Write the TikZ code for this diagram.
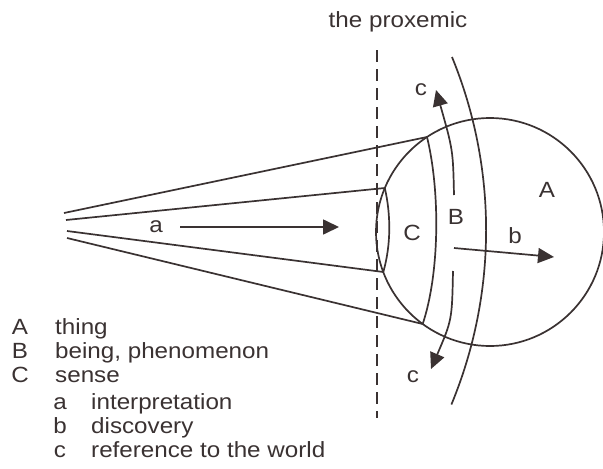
\documentclass[tikz,border=0pt]{standalone}
\usepackage{fontspec}
\setmainfont{Liberation Sans}
\usetikzlibrary{arrows.meta}
\definecolor{ink}{RGB}{58,50,50}
\newcommand{\sx}[1]{\scalebox{1.1}[1]{#1}}
\begin{document}
\begin{tikzpicture}[x=1pt,y=-1pt,
  line/.style={draw=ink, line width=1.7pt},
  arr/.style={line, -{Triangle[length=16pt,width=15pt]}},
  lbl/.style={inner sep=0pt, text=ink, font=\fontsize{22}{24}\selectfont, anchor=base},
  lgd/.style={lbl, anchor=base west}]
\useasboundingbox (0,0) rectangle (603,469);
\fill[white] (0,0) rectangle (603,469);
% geometry
\coordinate (O) at (490,232);
\coordinate (P1) at (427,137);
\coordinate (P2) at (384.8,188);
\coordinate (P3) at (383.3,272);
\coordinate (P4) at (422.7,324);
\coordinate (Q1) at (64,213);
\coordinate (Q2) at (66,220);
\coordinate (Q3) at (67,231);
\coordinate (Q4) at (67,238);
\coordinate (R1) at (452,57);
\coordinate (D1) at (377,50);
\coordinate (D2) at (377,418);
% thing circle
\draw[line] (O) circle[radius=114pt];
% cone
\draw[line] (Q1) -- (P1);
\draw[line] (Q2) -- (P2);
\draw[line] (Q3) -- (P3);
\draw[line] (Q4) -- (P4);
% lens and inner arc
\draw[line] (P2) .. controls (391,215) and (391,245) .. (P3);
\draw[line] (P1) .. controls (440,190) and (440,272) .. (P4);
% proxemic arc
\draw[line] (R1) arc[start angle=22.3, end angle=-22.5, radius=456pt];
% dashed line
\draw[line, dash pattern=on 12pt off 7pt] (D1) -- (D2);
% arrows
\coordinate (a1) at (180,227);
\coordinate (a2) at (339,227);
\coordinate (b1) at (454,248);
\coordinate (b2) at (554,257);
\coordinate (c1) at (454,195);
\coordinate (c2) at (436,90);
\coordinate (c3) at (453,271);
\coordinate (c4) at (431,369);
\draw[arr] (a1) -- (a2);
\draw[arr] (b1) -- (b2);
\draw[arr] (c1) .. controls (453,150) .. (c2);
\draw[arr] (c3) .. controls (452,320) .. (c4);
% labels
\node[lbl] (ttl) at (398,27) {\sx{the proxemic}};
\node[lbl] (la) at (156,232) {\sx{a}};
\node[lbl] (lA) at (547,197) {\sx{A}};
\node[lbl] (lB) at (456,224) {\sx{B}};
\node[lbl] (lC) at (412,240) {\sx{C}};
\node[lbl] (lb) at (515,243) {\sx{b}};
\node[lbl] (lc1) at (421,95) {\sx{c}};
\node[lbl] (lc2) at (413,382) {\sx{c}};
% legend
\node[lbl] (kA) at (20,334) {\sx{A}};
\node[lgd] (tA) at (55,334) {\sx{thing}};
\node[lbl] (kB) at (20,358) {\sx{B}};
\node[lgd] (tB) at (55,358) {\sx{being, phenomenon}};
\node[lbl] (kC) at (20,382) {\sx{C}};
\node[lgd] (tC) at (55,382) {\sx{sense}};
\node[lbl] (ka) at (60,409) {\sx{a}};
\node[lgd] (ta) at (91,409) {\sx{interpretation}};
\node[lbl] (kb) at (60,433) {\sx{b}};
\node[lgd] (tb) at (91,433) {\sx{discovery}};
\node[lbl] (kc) at (60,457) {\sx{c}};
\node[lgd] (tc) at (91,457) {\sx{reference to the world}};
\end{tikzpicture}
\end{document}
